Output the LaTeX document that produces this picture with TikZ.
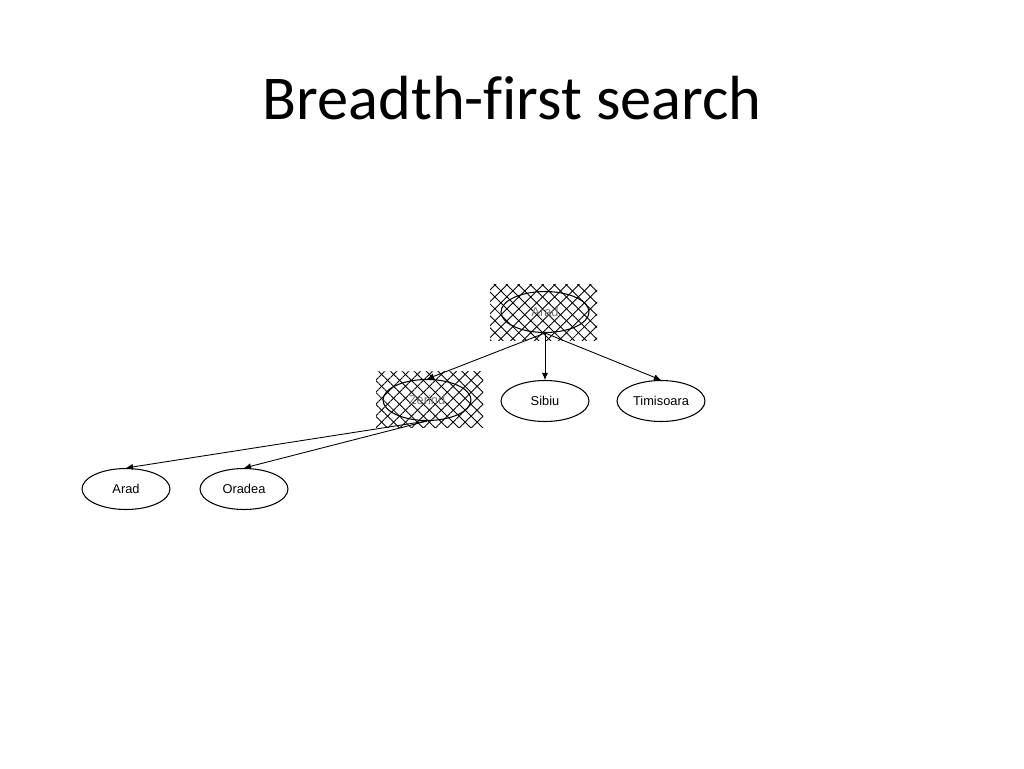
\documentclass[tikz,border=0pt]{standalone}
\usepackage{fontspec}
\setmainfont{Carlito}[Ligatures=CommonOff]
\newfontfamily\nodefont{Liberation Sans}
\usepackage{pgf,tikz}
\usetikzlibrary{arrows.meta,positioning,patterns.meta,shapes.geometric}
\usetikzlibrary{calc}

\tikzset{
  city/.style={draw,ellipse,minimum width=1.76cm,minimum height=0.82cm,inner sep=0pt,
    line width=0.6pt,font=\nodefont\fontsize{7.3pt}{8pt}\selectfont},
  visited/.style={text=black!55},
  edge/.style={-{Latex[length=4pt,width=3.5pt]},line width=0.5pt},
  hatchA/.style={pattern={Lines[angle=45,distance=4.8pt,line width=0.5pt]}},
  hatchB/.style={pattern={Lines[angle=-45,distance=4.8pt,line width=0.5pt]}}
}

\begin{document}
\begin{tikzpicture}[x=0.02cm,y=-0.02cm]

\useasboundingbox[fill=white] (0,0) rectangle (1024,768);

\node[font=\fontsize{35.5pt}{42pt}\selectfont] (title) at (512,98) {Breadth-first search};

% expanded nodes get the hatching
\foreach \x/\y in {490/284,376/371}{
  \fill[hatchA] (\x,\y) rectangle ++(107,56);
  \fill[hatchB] (\x,\y) rectangle ++(107,56);
}

\node[city,visited] (arad) at (545,312) {Arad};

\node[city,visited] (zerind) at (427,400) {Zerind};
\node[city] (sibiu) at (545,401) {Sibiu};
\node[city] (timisoara) at (661,401) {Timisoara};

\node[city] (arad2) at (126,489) {Arad};
\node[city] (oradea) at (244,489) {Oradea};

\draw[edge] (arad.south) -- (zerind.north);
\draw[edge] (arad.south) -- (sibiu.north);
\draw[edge] (arad.south) -- (timisoara.north);

\draw[edge] (zerind.south) -- (arad2.north);
\draw[edge] (zerind.south) -- (oradea.north);

\end{tikzpicture}
\end{document}
